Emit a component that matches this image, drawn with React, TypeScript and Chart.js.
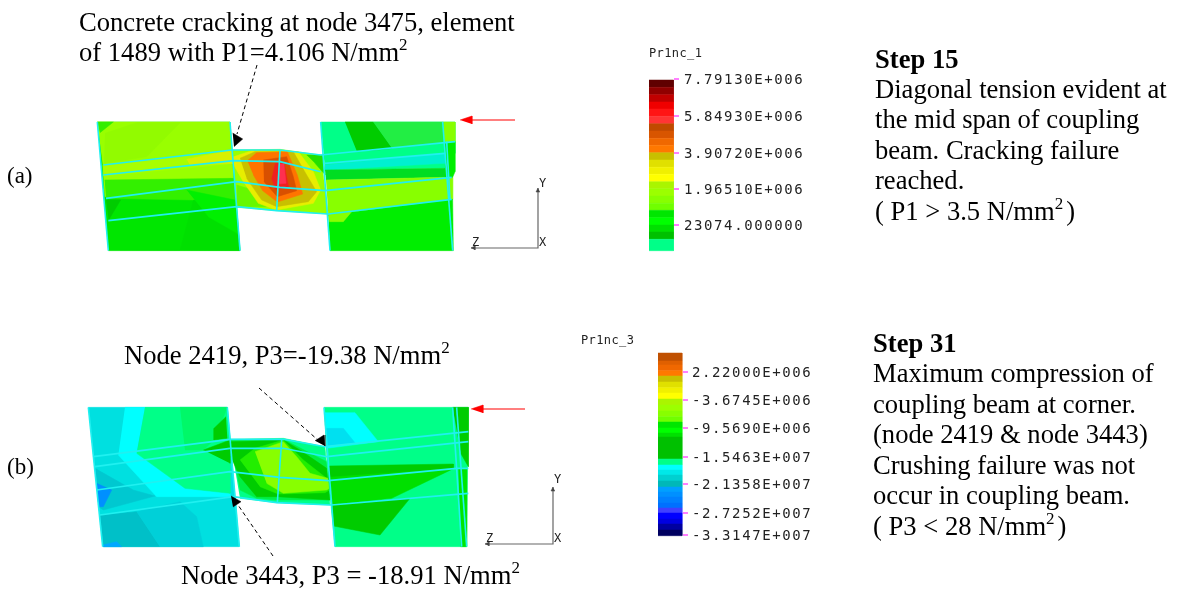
import React, { useEffect, useRef } from "react";
import { Chart, registerables } from "chart.js";
Chart.register(...registerables);

type Pt = [number, number];
type Poly = [string, Pt[]];

// Contour patches of panel (a): crop coordinates, origin (80,100), 3 units per pixel
const panelA: Poly[] = [
  ["#00e600", [[52,66],[450,66],[456,150],[480,452],[85,452]]],
  ["#99ff00", [[52,66],[450,66],[456,150],[460,235],[75,290],[68,195]]],
  ["#33ee00", [[52,66],[100,66],[60,98]]],
  ["#92fb00", [[75,100],[170,68],[300,68],[200,170],[72,190]]],
  ["#a8ff00", [[70,195],[456,150],[460,190],[70,228]]],
  ["#d8f000", [[320,178],[456,150],[460,190],[330,195]]],
  ["#33f000", [[74,240],[458,235],[470,250],[470,320],[340,300],[78,295]]],
  ["#00cc00", [[78,300],[122,300],[86,360]]],
  ["#00e000", [[120,450],[300,450],[340,300],[470,320],[480,452]]],
  ["#00f000", [[320,270],[465,300],[472,400],[385,350]]],
  // beam
  ["#99ff00", [[456,150],[600,148],[722,165],[745,342],[590,332],[470,322]]],
  ["#66f800", [[470,255],[520,270],[560,320],[472,320]]],
  ["#22e000", [[680,165],[728,165],[736,225],[705,190]]],
  ["#e8ee00", [[456,172],[515,152],[655,155],[700,215],[722,270],[700,310],[590,330],[535,310],[490,245],[458,190]]],
  ["#c8c000", [[480,175],[525,155],[640,155],[680,225],[710,275],[685,305],[590,320],[545,300],[500,235]]],
  ["#ff7400", [[502,182],[530,158],[622,155],[652,225],[668,282],[592,306],[548,272],[520,225]]],
  ["#d85000", [[550,180],[620,170],[640,230],[650,272],[592,290],[552,245]]],
  ["#f02020", [[585,190],[612,190],[626,262],[586,268],[575,235]]],
  ["#ff3050", [[598,192],[612,192],[618,250],[596,252]]],
  // right pier
  ["#00ff88", [[722,66],[1125,66],[1125,160],[735,210]]],
  ["#00cc00", [[795,66],[880,66],[940,150],[830,152]]],
  ["#22ee44", [[880,66],[1090,66],[1090,130],[940,150]]],
  ["#88ff00", [[1090,66],[1125,66],[1125,125],[1092,125]]],
  ["#00ff88", [[735,168],[1095,130],[1095,205],[735,210]]],
  ["#00f0d0", [[735,195],[1095,160],[1095,190],[735,210]]],
  ["#00dd22", [[735,210],[1095,205],[1095,232],[738,240]]],
  ["#88ff00", [[738,240],[1095,232],[1118,232],[1118,298],[745,345]]],
  ["#00ee00", [[745,345],[1118,298],[1120,452],[750,452]]],
  ["#88ff00", [[745,340],[815,335],[790,365],[748,365]]],
  ["#00ee00", [[1095,130],[1125,125],[1125,215],[1118,232],[1095,232]]],
];

// Contour patches of panel (b): crop coordinates, origin (70,390), 3 units per pixel
const panelB: Poly[] = [
  ["#00e0e0", [[55,52],[472,52],[480,145],[508,470],[98,470]]],
  ["#00ffff", [[165,52],[225,52],[200,185],[345,295],[480,310],[480,320],[260,320],[145,195]]],
  ["#00ff88", [[225,52],[472,52],[480,145],[480,310],[345,295],[200,190]]],
  ["#00f868", [[330,52],[472,52],[432,150],[400,180],[345,180]]],
  ["#00cc00", [[468,80],[432,115],[432,150],[472,145]]],
  ["#00cc00", [[400,180],[480,150],[480,220]]],
  ["#00c8d0", [[75,235],[190,300],[255,318],[100,360],[85,350]]],
  ["#0090ff", [[80,280],[125,300],[100,350],[85,350]]],
  ["#00c0c8", [[90,375],[200,365],[270,470],[100,470]]],
  ["#00d0d8", [[200,365],[330,335],[380,380],[400,470],[270,470]]],
  ["#00a8ff", [[98,465],[140,455],[155,470],[100,470]]],
  // beam
  ["#00ff88", [[480,148],[640,145],[765,170],[780,345],[620,338],[510,325]]],
  ["#00ee44", [[480,150],[640,148],[770,215],[780,330],[620,330],[560,325],[510,300]]],
  ["#00cc00", [[482,155],[640,150],[690,180],[770,235],[780,330],[620,320],[560,320],[510,260],[482,200]]],
  ["#22ee00", [[510,210],[555,175],[640,150],[700,210],[770,265],[815,278],[765,308],[625,312],[570,290]]],
  ["#88ff00", [[555,185],[640,155],[680,200],[720,250],[810,275],[770,300],[640,310],[590,280]]],
  // right pier
  ["#00ff88", [[762,52],[1195,52],[1190,470],[795,470],[770,210]]],
  ["#00ffff", [[765,68],[855,68],[925,155],[770,175]]],
  ["#00e0f0", [[768,115],[820,115],[855,158],[770,168]]],
  ["#00cc00", [[775,228],[1150,222],[1150,235],[775,270]]],
  ["#00e000", [[775,262],[1150,236],[965,325],[785,345]]],
  ["#00cc00", [[785,345],[1020,325],[930,435],[790,408]]],
  ["#00cc00", [[1148,52],[1195,52],[1195,230],[1172,190]]],
  ["#00e600", [[1165,235],[1190,235],[1190,470],[1172,470]]],
];

// Mesh lines
const meshA: Pt[][] = [
  [[52,66],[85,452]],
  [[450,66],[480,452]],
  [[70,195],[455,150],[600,150],[722,165],[1125,125]],
  [[70,225],[460,182],[600,185],[722,215]],
  [[735,190],[1095,160]],
  [[78,295],[470,245],[600,262],[735,272],[1115,232]],
  [[85,362],[470,320],[590,332],[745,342],[1115,298]],
  [[600,150],[590,332]],
  [[722,66],[750,452]],
  [[1088,66],[1118,452]],
  [[1100,125],[1110,300]],
];
const meshB: Pt[][] = [
  [[55,52],[98,470]],
  [[472,52],[508,470]],
  [[70,200],[480,148],[640,148],[765,170],[1195,125]],
  [[75,230],[480,175],[640,175],[770,200],[1195,155]],
  [[80,300],[480,245],[630,262],[775,272],[1160,235],[1195,235]],
  [[90,375],[490,320],[620,338],[785,345],[1195,310]],
  [[762,52],[795,470]],
  [[1148,52],[1175,470]],
  [[1160,52],[1190,470]],
  [[635,150],[622,338]],
];

// Legend (a)
const legendAEdges = [80,87.3,94.7,102,109,116.3,123.7,131,138.3,145.3,152.7,160,167.3,174.3,181.7,188.7,196,203.3,210.3,217.7,225,232,239.3,250.7];
const legendAColors = ["#600000","#900000","#c00000","#f00000","#ff1515","#ff3535","#c04a00","#d85500","#f06800","#ff7800","#c8c000","#e0e000","#f0f000","#ffff00","#aaf500","#9cff00","#88ff00","#70ff00","#00e600","#00ff00","#00e000","#00c000","#00ff88"];
const legendATicks = [79,116,153,189,225];
const legendALabels = ["7.79130E+006","5.84930E+006","3.90720E+006","1.96510E+006","23074.000000"];

// Legend (b)
const legendBEdges = [353,361,365,370.7,376,382,387.7,393,399,405,411,416.7,422,428,433,437,459,465,470,475,481,487,492,497,503,508,513,519,524,530,535.7];
const legendBColors = ["#c05000","#e06000","#f06800","#ff7800","#c8c000","#e0e000","#f0f000","#ffff00","#aaf500","#9cff00","#88ff00","#70ff00","#00e600","#00ff00","#00e000","#00c000","#00ff88","#00ffff","#00e8e8","#00d0d0","#00b8b8","#00a0ff","#0090ff","#0080ff","#0070ff","#4040ff","#0000ff","#0000e0","#0000a0","#000060"];
const legendBTicks = [372,400,428,457,484,513,535];
const legendBLabels = ["2.22000E+006","-3.6745E+006","-9.5690E+006","-1.5463E+007","-2.1358E+007","-2.7252E+007","-3.3147E+007"];

// Leader arrows, in page units
const dashedLines: Pt[][] = [
  [[257,65],[237,134]],
  [[259,388],[319,441]],
  [[273,556],[238,505]],
];
const blackHeads: Pt[][] = [
  [[232.7,133],[242.7,139],[234,146.7]],
  [[315,440.7],[324,435],[325,446]],
  [[231,496],[241,501.7],[233,507]],
];
const redLines: Pt[][] = [[[515,120],[468,120]],[[525,409],[479,409]]];
const redHeads: Pt[][] = [[[460,120],[472,116],[472,124]],[[471,409],[483,405],[483,413]]];
const triads: Pt[][] = [
  [[538,188],[538,248],[471,248]],
  [[553,487],[553,544],[485,544]],
];
const triadHeads: Pt[][] = [
  [[538,188],[536,192],[540,192]],
  [[471,248],[475,246],[475,250]],
  [[553,487],[551,491],[555,491]],
  [[485,544],[489,542],[489,546]],
];

// Text
const sideLabels: [string, number, number][] = [
  ["(a)", 7, 183],
  ["(b)", 7, 474],
];
const serifLines: [string, number, number, boolean?][] = [
  ["Concrete cracking at node 3475, element", 79, 31],
  ["of 1489 with P1=4.106 N/mm^2", 79, 61],
  ["Node 2419, P3=-19.38 N/mm^2", 124, 364],
  ["Node 3443, P3 = -18.91 N/mm^2", 181, 584],
  ["Step 15", 875, 68, true],
  ["Diagonal tension evident at", 875, 98],
  ["the mid span of coupling", 875, 128],
  ["beam. Cracking failure", 875, 159],
  ["reached.", 875, 189],
  ["( P1 > 3.5 N/mm^2 )", 875, 220],
  ["Step 31", 873, 352, true],
  ["Maximum compression of", 873, 382],
  ["coupling beam at corner.", 873, 413],
  ["(node 2419 & node 3443)", 873, 443],
  ["Crushing failure was not", 873, 474],
  ["occur in coupling beam.", 873, 504],
  ["( P3 < 28 N/mm^2 )", 873, 535],
];
const monoLabels: [string, number, number][] = [
  ["Pr1nc_1", 649, 57],
  ["Pr1nc_3", 581, 344],
  ["Y", 539, 187],
  ["Y", 554, 483],
  ["Z", 472, 246],
  ["Z", 486, 542],
  ["X", 539, 246],
  ["X", 554, 542],
];

const crop = (ox: number, oy: number, pts: Pt[]) => pts.map(([x, y]) => ({ x: ox + x / 3, y: oy + y / 3 }));
const page = (pts: Pt[]) => pts.map(([x, y]) => ({ x, y }));
const rect = (x0: number, x1: number, y0: number, y1: number) =>
  page([[x0, y0], [x1, y0], [x1, y1], [x0, y1]]);

export default function App() {
  const ref = useRef<HTMLCanvasElement>(null);
  useEffect(() => {
    document.body.style.margin = "0";
    const shapes: any[] = [];
    const fillShape = (data: any[], color: string) =>
      shapes.push({ data, backgroundColor: color, borderColor: color, borderWidth: 0.5, fill: "shape" });
    const stroke = (data: any[], color: string, width: number, dash: number[] = []) =>
      shapes.push({ data, borderColor: color, borderWidth: width, borderDash: dash, fill: false });

    panelA.forEach(([c, p]) => fillShape(crop(80, 100, p), c));
    meshA.forEach((p) => stroke(crop(80, 100, p), "#20f0f0", 1.6));
    panelB.forEach(([c, p]) => fillShape(crop(70, 390, p), c));
    meshB.forEach((p) => stroke(crop(70, 390, p), "#20f0f0", 1.6));
    legendAColors.forEach((c, i) => fillShape(rect(649, 673.5, legendAEdges[i], legendAEdges[i + 1]), c));
    legendBColors.forEach((c, i) => fillShape(rect(658, 682, legendBEdges[i], legendBEdges[i + 1]), c));
    legendATicks.forEach((y) => stroke(page([[674, y], [679, y]]), "#ff00ff", 1));
    legendBTicks.forEach((y) => stroke(page([[683, y], [688, y]]), "#ff00ff", 1));
    dashedLines.forEach((p) => stroke(page(p), "#000000", 1, [4, 3]));
    blackHeads.forEach((p) => fillShape(page(p), "#000000"));
    redLines.forEach((p) => stroke(page(p), "#ff0000", 1.2));
    redHeads.forEach((p) => fillShape(page(p), "#ff0000"));
    triads.forEach((p) => stroke(page(p), "#666666", 1.2));
    triadHeads.forEach((p) => fillShape(page(p), "#444444"));

    const datasets = shapes.map((s, i) => ({
      ...s,
      showLine: true,
      pointRadius: 0,
      tension: 0,
      order: shapes.length - i,
    }));

    const textPlugin = {
      id: "pageText",
      afterDatasetsDraw(chart: any) {
        const ctx = chart.ctx as CanvasRenderingContext2D;
        const sx = chart.scales.x;
        const sy = chart.scales.y;
        ctx.save();
        ctx.fillStyle = "#000";
        ctx.textBaseline = "alphabetic";
        ctx.font = '23px "Liberation Serif"';
        sideLabels.forEach(([t, x, y]) => ctx.fillText(t, sx.getPixelForValue(x), sy.getPixelForValue(y)));
        serifLines.forEach(([t, x, y, bold]) => {
          let px = sx.getPixelForValue(x);
          const py = sy.getPixelForValue(y);
          const [a, b] = t.split("^2");
          ctx.font = `${bold ? "bold " : ""}26.6px "Liberation Serif"`;
          ctx.fillText(a, px, py);
          if (t.includes("^2")) {
            px += ctx.measureText(a).width;
            ctx.font = '17px "Liberation Serif"';
            ctx.fillText("2", px, py - 11);
            px += ctx.measureText("2").width + 3;
            ctx.font = '26.6px "Liberation Serif"';
            ctx.fillText((b || "").trim(), px, py);
          }
        });
        (ctx as any).letterSpacing = "1.6px";
        ctx.fillStyle = "#222";
        ctx.font = '14px "DejaVu Sans Mono"';
        legendALabels.forEach((t, i) => ctx.fillText(t, sx.getPixelForValue(684), sy.getPixelForValue(legendATicks[i] + 5)));
        legendBLabels.forEach((t, i) => ctx.fillText(t, sx.getPixelForValue(692), sy.getPixelForValue(legendBTicks[i] + 5)));
        (ctx as any).letterSpacing = "0.4px";
        ctx.font = '12px "DejaVu Sans Mono"';
        monoLabels.forEach(([t, x, y]) => ctx.fillText(t, sx.getPixelForValue(x), sy.getPixelForValue(y)));
        ctx.restore();
      },
    };

    const chart = new Chart(ref.current!, {
      type: "scatter",
      data: { datasets },
      options: {
        responsive: false,
        animation: false,
        layout: { padding: 0 },
        plugins: { legend: { display: false }, tooltip: { enabled: false } },
        scales: {
          x: { type: "linear", display: false, min: 0, max: 1182 },
          y: { type: "linear", display: false, min: 0, max: 590, reverse: true },
        },
      },
      plugins: [textPlugin],
    } as any);
    return () => chart.destroy();
  }, []);
  return <canvas ref={ref} width={1182} height={590} style={{ display: "block" }} />;
}
